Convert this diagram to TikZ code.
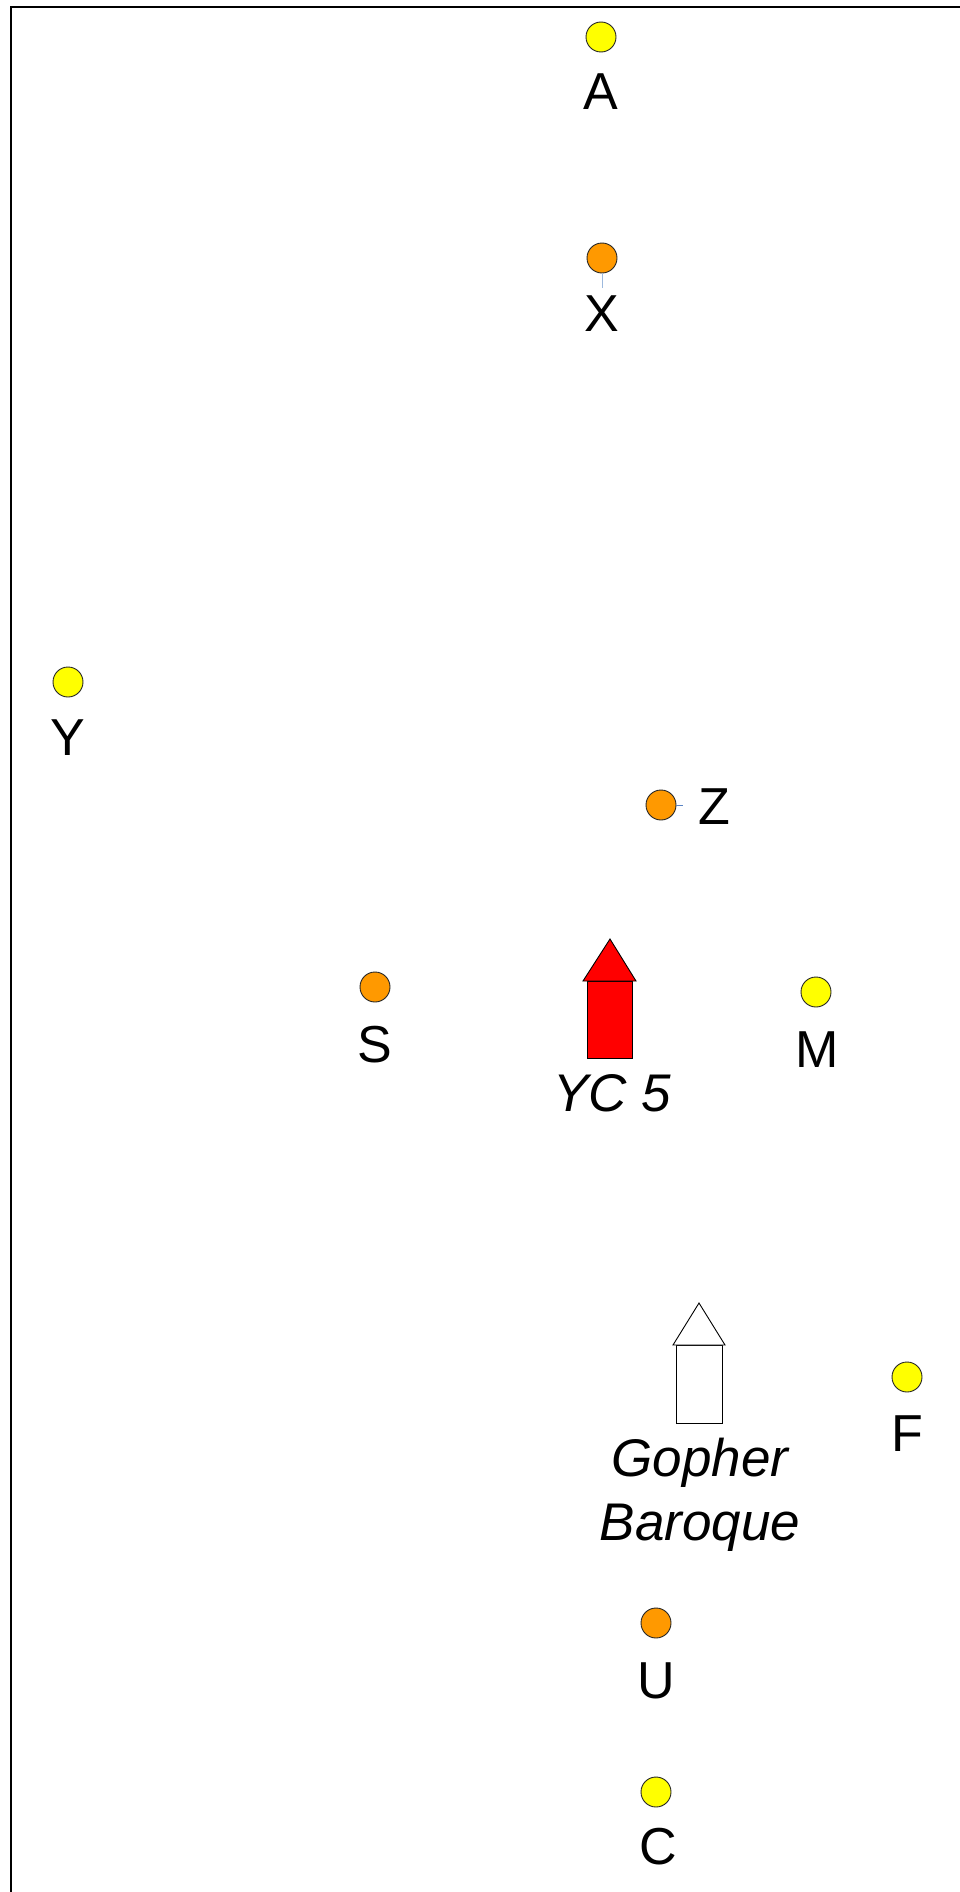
\documentclass[tikz,border=0pt]{standalone}
\usepackage{fontspec}
\setmainfont{Liberation Sans}
\definecolor{dotyellow}{HTML}{FFFF00}
\definecolor{dotorange}{HTML}{FF9900}
\definecolor{leaderA}{HTML}{9DB9DD}
\definecolor{leaderB}{HTML}{5A84C4}
\tikzset{
  dot/.style={circle, draw=black!85, line width=0.9pt, minimum size=30pt, inner sep=0pt},
  ydot/.style={dot, fill=dotyellow},
  odot/.style={dot, fill=dotorange},
  lbl/.style={anchor=base, inner sep=0pt, font=\fontsize{52}{64}\selectfont},
  ilbl/.style={lbl, font=\fontsize{53}{64}\selectfont\itshape},
  house/.style={draw=black, line width=0.9pt, line join=miter},
  frameline/.style={line width=2pt, black}
}
\begin{document}
\begin{tikzpicture}[x=1pt,y=-1pt]
\useasboundingbox (0,0) rectangle (960,1892);
% frame (top and left)
\draw[frameline] (960,7.5) -- (11,7.5) -- (11,1892);

% dots
\node[ydot] (A) at (601,37) {};
\node[lbl] (Alab) at (601,110) {A};
\node[odot] (X) at (602,258) {};
\node[lbl] (Xlab) at (602,331) {X};
\coordinate (Xend) at (602,288);
\draw[leaderA, line width=1pt] (X.south) -- (Xend);

\node[ydot] (Y) at (68,682) {};
\node[lbl] (Ylab) at (68,755) {Y};

\node[odot] (Z) at (661,805) {};
\node[lbl] (Zlab) at (714,824) {Z};
\coordinate (Zend) at (683,805);
\draw[leaderB, line width=0.7pt] (Z.east) -- (Zend);

\node[odot] (S) at (375,987) {};
\node[lbl] (Slab) at (375,1062) {S};
\node[ydot] (M) at (816,992) {};
\node[lbl] (Mlab) at (817,1067) {M};

\node[ydot] (F) at (907,1377) {};
\node[lbl] (Flab) at (907,1451) {F};
\node[odot] (U) at (656,1623) {};
\node[lbl] (Ulab) at (656,1698) {U};
\node[ydot] (C) at (656,1792) {};
\node[lbl] (Clab) at (658,1864) {C};

% red house YC 5
\draw[house, fill=red] (587,981) rectangle (632,1058);
\draw[house, fill=red] (583,981) -- (610,939) -- (636,981) -- cycle;
\node[ilbl] (yc) at (612,1111) {YC 5};

% white house Gopher Baroque
\draw[house, fill=white] (676,1345) rectangle (722,1423);
\draw[house, fill=white] (673,1345) -- (699,1303) -- (725,1345) -- cycle;
\node[ilbl] (gb1) at (700,1476) {Gopher};
\node[ilbl] (gb2) at (700,1540) {Baroque};
\end{tikzpicture}
\end{document}
